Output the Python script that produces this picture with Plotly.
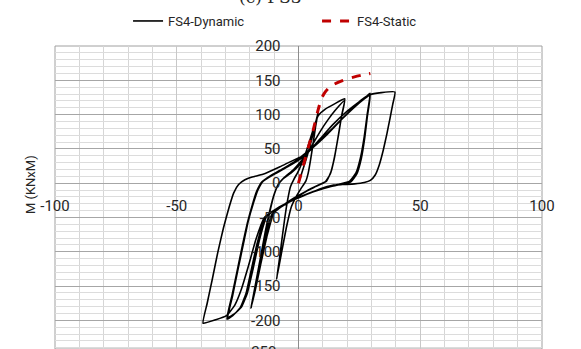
import plotly.graph_objects as go

# ---------------- data ----------------
dyn_x = [0, 2, 4, 6, 8,
         7, 6, 5, 4, 3,
         1, -1, -3,
         -5, -7, -9,
         -8, -6.8, -5.6, -4.5, -3.3, -2,
         0, 2, 4, 6, 8,
         11, 15, 19,
         17.8, 16.5, 15, 13.5, 11.5,
         8, 4, 0, -5, -10,
         -13, -15.5, -17.7, -19.5,
         -17.8, -15.8, -13.8, -12, -10.3, -8.5, -6.5,
         -3, 0, 3, 6, 9, 12, 15, 19,
         17.6, 16.2, 14.7, 13, 11,
         7, 3, -2, -7, -11,
         -14, -16.3, -18.2, -19.3,
         -17.6, -15.6, -13.6, -11.8, -10, -8, -6,
         -2, 1, 4, 9, 14, 20, 25,
         29.4,
         28.3, 27.2, 25.8, 24, 21.5,
         17, 12, 7, 2, -4, -10, -14,
         -17, -19.5, -21.5, -24, -27, -29.4,
         -27.4, -25.2, -23, -21, -19, -17.2, -15,
         -11, -6, -1, 4, 9, 14, 19, 24, 27.5, 29.4,
         28.2, 27, 25.5, 23.6, 21,
         16, 10, 4, -2, -8, -13,
         -16, -18.6, -21, -23.5, -26.5, -29,
         -27, -24.8, -22.6, -20.6, -18.6, -16.7, -14.5,
         -10, -4, 1, 6, 12, 18, 23, 27, 29.4, 34, 39.6,
         38.7, 37.6, 36.3, 34.8, 33.2, 31.5, 29.5, 27, 23, 18, 14, 9, 3, -3, -9, -14,
         -17.5, -20.5, -23.5, -26.2, -29.6, -34, -39.2,
         -37.5, -35.4, -33.1, -30.8, -28.5, -26.6, -24.6, -22, -19, -14.6, -7.6, 0.6]
dyn_y = [0, 22, 45, 72, 103,
         82, 58, 35, 15, 3,
         -8, -20, -35,
         -65, -102, -140,
         -115, -82, -50, -25, -5, 5,
         18, 35, 55, 78, 98,
         108, 116, 123,
         100, 72, 42, 18, 3,
         -3, -10, -19, -30, -42,
         -78, -118, -155, -182,
         -150, -112, -75, -45, -20, -3, 6,
         15, 25, 40, 58, 76, 92, 106, 121,
         96, 66, 36, 13, 2,
         -5, -12, -22, -34, -46,
         -85, -125, -158, -178,
         -146, -108, -70, -40, -16, 0, 8,
         20, 32, 45, 65, 85, 105, 119,
         130,
         98, 66, 36, 14, 2,
         -2, -6, -11, -18, -28, -40, -52,
         -88, -128, -160, -182, -193, -198,
         -165, -128, -90, -58, -32, -12, 2,
         12, 22, 33, 47, 63, 80, 98, 115, 125, 131,
         100, 68, 38, 15, 3,
         -2, -8, -15, -24, -35, -48,
         -82, -124, -160, -181, -191, -196,
         -163, -125, -88, -55, -30, -10, 3,
         13, 25, 36, 52, 72, 94, 111, 123, 129, 132, 133,
         115, 95, 72, 48, 27, 12, 4, 1, -1, -2, -3, -8, -17, -26, -37, -50,
         -82, -120, -155, -178, -193, -199, -204,
         -175, -140, -100, -65, -35, -14, -2, 5, 9, 13, 24, 38]

sta_x = [0, 2, 4, 6, 8, 9.5, 11, 12.5, 14.5, 17, 20, 23, 26, 29.5]
sta_y = [0, 26, 52, 77, 106, 124, 133, 139, 144, 148, 152, 155, 157.5, 160]

x_ticks = [-100, -50, 0, 50, 100]
y_ticks = [200, 150, 100, 50, 0, -50, -100, -150, -200]
y_extra_label = "-250"

title_text = "(c) FS3"
y_title = "M (KNxM)"
names = ["FS4-Dynamic", "FS4-Static"]

# ---------------- figure ----------------
fig = go.Figure()
fig.add_trace(go.Scatter(x=dyn_x, y=dyn_y, mode="lines", name=names[0],
                         line=dict(color="black", width=1.6, shape="spline", smoothing=0.4)))
fig.add_trace(go.Scatter(x=sta_x, y=sta_y, mode="lines", name=names[1],
                         line=dict(color="#c00000", width=3, dash="dash", shape="spline", smoothing=0.6)))

tick_font = dict(family="Roboto, Liberation Sans, sans-serif", size=15, color="#262626")

fig.update_layout(
    width=581, height=349,
    margin=dict(l=55, r=39, t=46, b=0),
    plot_bgcolor="white", paper_bgcolor="white",
    legend=dict(orientation="h", x=0.150, xanchor="left", y=1.0825, yanchor="middle",
                font=dict(family="Roboto, Liberation Sans, sans-serif", size=13, color="#262626"),
                entrywidth=144, bgcolor="rgba(0,0,0,0)", traceorder="normal"),
    xaxis=dict(range=[-100, 100], tickvals=x_ticks, ticktext=[str(v) for v in x_ticks],
               anchor="free", position=0.548, showline=False, ticks="",
               ticklabelstandoff=12, tickfont=tick_font,
               showgrid=True, gridcolor="#c8c8c8", gridwidth=1,
               minor=dict(dtick=10, showgrid=True, gridcolor="#d6d6d6", gridwidth=1),
               zeroline=True, zerolinecolor="#8c8c8c", zerolinewidth=1),
    yaxis=dict(range=[-241.7, 200], tickvals=y_ticks, ticktext=[str(v) for v in y_ticks],
               anchor="free", position=0.5, showline=False, ticks="",
               ticklabelstandoff=18, tickfont=tick_font,
               showgrid=True, gridcolor="#a6a6a6", gridwidth=1,
               minor=dict(dtick=10, showgrid=True, gridcolor="#dcdcdc", gridwidth=1),
               zeroline=True, zerolinecolor="#a6a6a6", zerolinewidth=1),
    shapes=[dict(type="rect", xref="paper", yref="paper", x0=0, x1=1, y0=0, y1=1,
                 line=dict(color="#a0a0a0", width=1), layer="below")],
    annotations=[
        dict(text=y_extra_label, xref="x", yref="paper", x=0, y=-0.0099, xanchor="right",
             yanchor="middle", xshift=-21, showarrow=False, font=tick_font),
        dict(text=y_title, xref="paper", yref="paper", x=-0.0513, y=0.541, textangle=-90,
             xanchor="center", yanchor="middle",
             showarrow=False, font=dict(family="Roboto, Liberation Sans, sans-serif", size=13, color="#262626")),
        dict(text=title_text, xref="paper", yref="paper", x=0.4415, y=1.122, yanchor="bottom",
             xanchor="center",
             showarrow=False, font=dict(family="DejaVu Serif, serif", size=17, color="#262626")),
    ],
)

fig.write_html("out.html", config={"displayModeBar": False},
               post_script="document.body.style.margin='0px';")
